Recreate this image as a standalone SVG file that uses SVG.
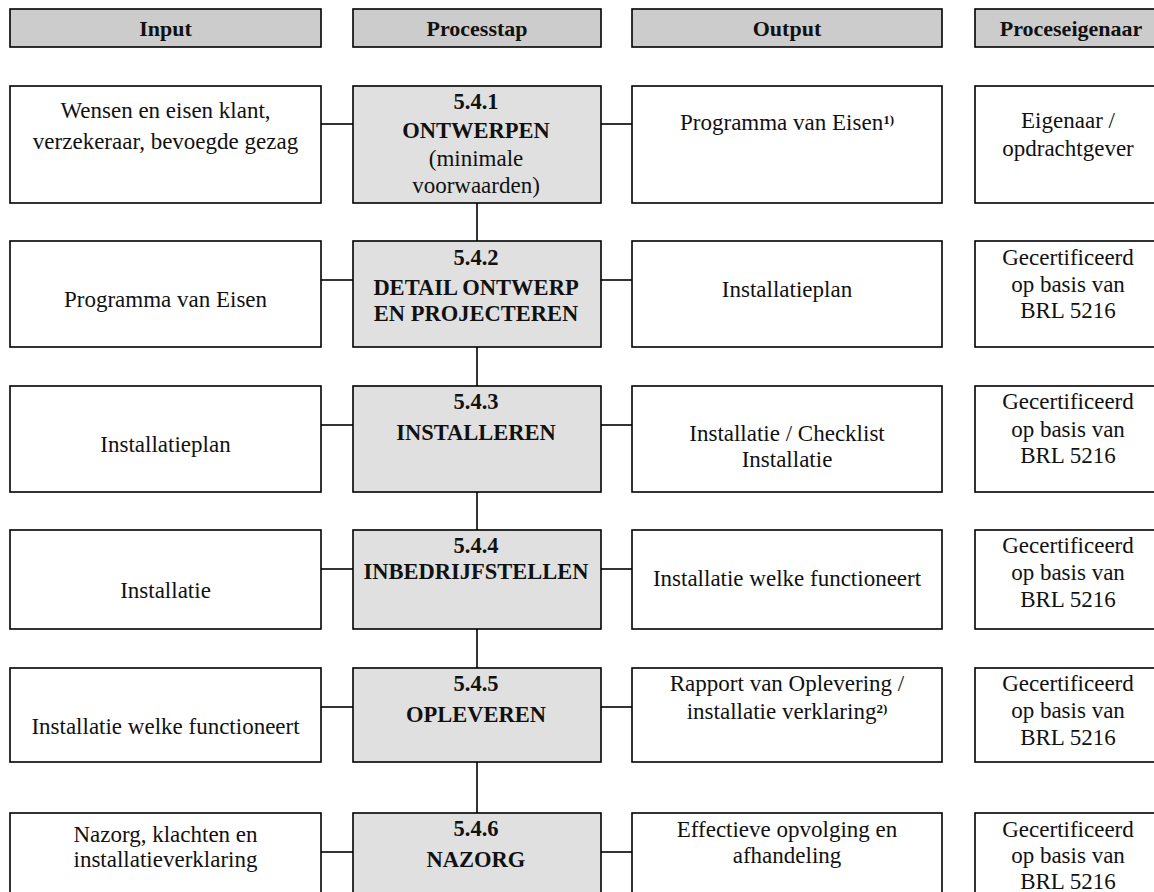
<svg xmlns="http://www.w3.org/2000/svg" width="1154" height="892" viewBox="0 0 1154 892">
<style>
rect{stroke:#000;stroke-width:1.6}
.hdr{fill:#cccccc}
.box{fill:#ffffff}
.proc{fill:#e0e0e0}
text{font-family:"Liberation Serif","Times New Roman",serif;text-anchor:middle;fill:#111}
.t{font-size:23px}
.b{font-size:22.5px;font-weight:bold}
.h{font-size:22px;font-weight:bold}
.sup{font-size:13px;font-weight:bold}
#connectors line{stroke:#000;stroke-width:1.6}
</style>
<rect width="1154" height="892" fill="#fff" style="stroke:none"/>

<g id="headers">
  <g id="hdr-input"><rect class="hdr" x="10" y="9" width="311" height="38"/><text class="h" x="165.5" y="36">Input</text></g>
  <g id="hdr-process"><rect class="hdr" x="353" y="9" width="248" height="38"/><text class="h" x="477" y="36">Processtap</text></g>
  <g id="hdr-output"><rect class="hdr" x="632" y="9" width="310" height="38"/><text class="h" x="787" y="36">Output</text></g>
  <g id="hdr-owner"><rect class="hdr" x="975" y="9" width="190" height="38"/><text class="h" x="1071" y="36">Proceseigenaar</text></g>
</g>

<g id="connectors">
  <line x1="321" y1="124" x2="353" y2="124"/><line x1="601" y1="124" x2="632" y2="124"/>
  <line x1="321" y1="280" x2="353" y2="280"/><line x1="601" y1="280" x2="632" y2="280"/>
  <line x1="321" y1="425" x2="353" y2="425"/><line x1="601" y1="425" x2="632" y2="425"/>
  <line x1="321" y1="569" x2="353" y2="569"/><line x1="601" y1="569" x2="632" y2="569"/>
  <line x1="321" y1="707" x2="353" y2="707"/><line x1="601" y1="707" x2="632" y2="707"/>
  <line x1="321" y1="852" x2="353" y2="852"/><line x1="601" y1="852" x2="632" y2="852"/>
  <line x1="477" y1="203" x2="477" y2="241"/>
  <line x1="477" y1="347" x2="477" y2="386"/>
  <line x1="477" y1="492" x2="477" y2="530"/>
  <line x1="477" y1="629" x2="477" y2="668"/>
  <line x1="477" y1="762" x2="477" y2="813"/>
</g>

<!-- Row 1 -->
<g id="in1"><rect class="box" x="10" y="86" width="311" height="117"/>
  <text class="t" x="165.5" y="118">Wensen en eisen klant,</text>
  <text class="t" x="165.5" y="149">verzekeraar, bevoegde gezag</text></g>
<g id="p1"><rect class="proc" x="353" y="86" width="248" height="117"/>
  <text class="b" x="476" y="109">5.4.1</text>
  <text class="b" x="476" y="138">ONTWERPEN</text>
  <text class="t" x="476" y="166">(minimale</text>
  <text class="t" x="476" y="193">voorwaarden)</text></g>
<g id="out1"><rect class="box" x="632" y="86" width="310" height="117"/>
  <text class="t" x="787" y="130">Programma van Eisen<tspan class="sup" dy="-6">1)</tspan></text></g>
<g id="own1"><rect class="box" x="975" y="86" width="190" height="117"/>
  <text class="t" x="1068" y="128">Eigenaar /</text>
  <text class="t" x="1068" y="156">opdrachtgever</text></g>

<!-- Row 2 -->
<g id="in2"><rect class="box" x="10" y="241" width="311" height="106"/>
  <text class="t" x="165.5" y="307">Programma van Eisen</text></g>
<g id="p2"><rect class="proc" x="353" y="241" width="248" height="106"/>
  <text class="b" x="476" y="265">5.4.2</text>
  <text class="b" x="476" y="295">DETAIL ONTWERP</text>
  <text class="b" x="476" y="321">EN PROJECTEREN</text></g>
<g id="out2"><rect class="box" x="632" y="241" width="310" height="106"/>
  <text class="t" x="787" y="297">Installatieplan</text></g>
<g id="own2"><rect class="box" x="975" y="241" width="190" height="106"/>
  <text class="t" x="1068" y="265">Gecertificeerd</text>
  <text class="t" x="1068" y="292">op basis van</text>
  <text class="t" x="1068" y="318">BRL 5216</text></g>

<!-- Row 3 -->
<g id="in3"><rect class="box" x="10" y="386" width="311" height="106"/>
  <text class="t" x="165.5" y="452">Installatieplan</text></g>
<g id="p3"><rect class="proc" x="353" y="386" width="248" height="106"/>
  <text class="b" x="476" y="409">5.4.3</text>
  <text class="b" x="476" y="440">INSTALLEREN</text></g>
<g id="out3"><rect class="box" x="632" y="386" width="310" height="106"/>
  <text class="t" x="787" y="441">Installatie / Checklist</text>
  <text class="t" x="787" y="467">Installatie</text></g>
<g id="own3"><rect class="box" x="975" y="386" width="190" height="106"/>
  <text class="t" x="1068" y="409">Gecertificeerd</text>
  <text class="t" x="1068" y="437">op basis van</text>
  <text class="t" x="1068" y="463">BRL 5216</text></g>

<!-- Row 4 -->
<g id="in4"><rect class="box" x="10" y="530" width="311" height="99"/>
  <text class="t" x="165.5" y="598">Installatie</text></g>
<g id="p4"><rect class="proc" x="353" y="530" width="248" height="99"/>
  <text class="b" x="476" y="553">5.4.4</text>
  <text class="b" x="476" y="579">INBEDRIJFSTELLEN</text></g>
<g id="out4"><rect class="box" x="632" y="530" width="310" height="99"/>
  <text class="t" x="787" y="586">Installatie welke functioneert</text></g>
<g id="own4"><rect class="box" x="975" y="530" width="190" height="99"/>
  <text class="t" x="1068" y="553">Gecertificeerd</text>
  <text class="t" x="1068" y="580">op basis van</text>
  <text class="t" x="1068" y="607">BRL 5216</text></g>

<!-- Row 5 -->
<g id="in5"><rect class="box" x="10" y="668" width="311" height="94"/>
  <text class="t" x="165.5" y="734">Installatie welke functioneert</text></g>
<g id="p5"><rect class="proc" x="353" y="668" width="248" height="94"/>
  <text class="b" x="476" y="691">5.4.5</text>
  <text class="b" x="476" y="722">OPLEVEREN</text></g>
<g id="out5"><rect class="box" x="632" y="668" width="310" height="94"/>
  <text class="t" x="787" y="691">Rapport van Oplevering /</text>
  <text class="t" x="787" y="719">installatie verklaring<tspan class="sup" dy="-6">2)</tspan></text></g>
<g id="own5"><rect class="box" x="975" y="668" width="190" height="94"/>
  <text class="t" x="1068" y="691">Gecertificeerd</text>
  <text class="t" x="1068" y="718">op basis van</text>
  <text class="t" x="1068" y="745">BRL 5216</text></g>

<!-- Row 6 -->
<g id="in6"><rect class="box" x="10" y="813" width="311" height="100"/>
  <text class="t" x="165.5" y="842">Nazorg, klachten en</text>
  <text class="t" x="165.5" y="867">installatieverklaring</text></g>
<g id="p6"><rect class="proc" x="353" y="813" width="248" height="100"/>
  <text class="b" x="476" y="836">5.4.6</text>
  <text class="b" x="476" y="867">NAZORG</text></g>
<g id="out6"><rect class="box" x="632" y="813" width="310" height="100"/>
  <text class="t" x="787" y="837">Effectieve opvolging en</text>
  <text class="t" x="787" y="863">afhandeling</text></g>
<g id="own6"><rect class="box" x="975" y="813" width="190" height="100"/>
  <text class="t" x="1068" y="837">Gecertificeerd</text>
  <text class="t" x="1068" y="863">op basis van</text>
  <text class="t" x="1068" y="889">BRL 5216</text></g>
</svg>
